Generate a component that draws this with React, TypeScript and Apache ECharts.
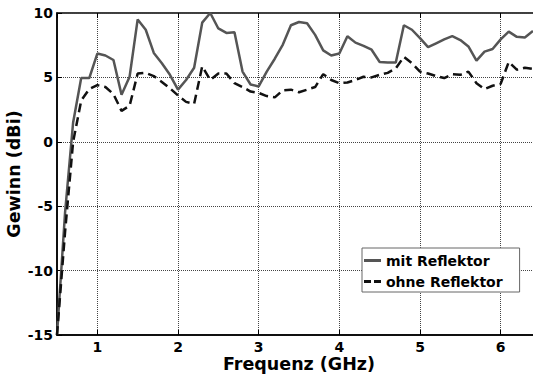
import React, { useEffect, useRef } from "react";
import * as echarts from "echarts";

const freq = [0.5, 0.6, 0.7, 0.8, 0.9, 1.0, 1.1, 1.2, 1.3, 1.4, 1.5, 1.6, 1.7, 1.8, 1.9, 2.0, 2.1, 2.2, 2.3, 2.4, 2.5, 2.6, 2.7, 2.8, 2.9, 3.0, 3.1, 3.2, 3.3, 3.4, 3.5, 3.6, 3.7, 3.8, 3.9, 4.0, 4.1, 4.2, 4.3, 4.4, 4.5, 4.6, 4.7, 4.8, 4.9, 5.0, 5.1, 5.2, 5.3, 5.4, 5.5, 5.6, 5.7, 5.8, 5.9, 6.0, 6.1, 6.2, 6.3, 6.4];

const mitReflektor = [-15, -5.5, 1.5, 4.95, 4.95, 6.85, 6.7, 6.35, 3.65, 5.05, 9.5, 8.7, 6.9, 6.1, 5.2, 4.05, 4.8, 5.75, 9.25, 10.0, 8.8, 8.45, 8.5, 5.45, 4.45, 4.3, 5.45, 6.45, 7.55, 9.05, 9.3, 9.2, 8.3, 7.1, 6.7, 6.85, 8.2, 7.7, 7.45, 7.15, 6.2, 6.15, 6.15, 9.05, 8.7, 8.05, 7.35, 7.65, 7.95, 8.2, 7.9, 7.4, 6.3, 7.0, 7.2, 7.95, 8.55, 8.15, 8.1, 8.6];

const ohneReflektor = [-15, -7, 0.0, 3.2, 4.1, 4.4, 4.25, 3.7, 2.4, 2.8, 5.3, 5.35, 5.1, 4.65, 4.15, 3.6, 3.1, 2.95, 5.85, 4.8, 5.3, 5.3, 4.55, 4.25, 3.9, 3.8, 3.55, 3.45, 4.0, 4.05, 3.85, 4.05, 4.25, 5.25, 4.8, 4.55, 4.6, 4.8, 5.05, 5.0, 5.2, 5.35, 5.7, 6.6, 6.1, 5.45, 5.3, 5.1, 4.95, 5.25, 5.2, 5.45, 4.55, 4.1, 4.35, 4.5, 6.2, 5.6, 5.75, 5.65];

const seriesNames = ["mit Reflektor", "ohne Reflektor"];
const xTitle = "Frequenz (GHz)";
const yTitle = "Gewinn (dBi)";

const FONT = "'DejaVu Sans', 'Liberation Sans', Arial, sans-serif";
const ICON_SOLID = "path://M0,0 H17 V3 H0 Z";
const ICON_DASHED = "path://M0,0 H7 V3 H0 Z M10,0 H17 V3 H10 Z";

export default function App() {
  const ref = useRef<HTMLDivElement>(null);
  useEffect(() => {
    if (!ref.current) return;
    const chart = echarts.init(ref.current, undefined, { renderer: "svg" });
    const pairs = (vals: number[]) => freq.map((f, i) => [f, vals[i]]);
    chart.setOption({
      animation: false,
      backgroundColor: "#ffffff",
      grid: {
        left: 57,
        top: 13,
        right: -8,
        bottom: 39,
        outerBoundsMode: "none",
        containLabel: false,
        show: true,
        borderColor: "#000",
        borderWidth: 1.5,
        backgroundColor: "transparent",
      },
      legend: {
        data: [
          { name: seriesNames[0], icon: ICON_SOLID },
          { name: seriesNames[1], icon: ICON_DASHED },
        ],
        orient: "vertical",
        left: 362,
        top: 248,
        itemWidth: 17,
        itemHeight: 3,
        itemGap: 4,
        padding: [4, 17, 2, 2],
        backgroundColor: "#fff",
        borderColor: "#666",
        borderWidth: 1,
        textStyle: { fontSize: 14, fontWeight: "bold", color: "#000", fontFamily: FONT, lineHeight: 17 },
      },
      xAxis: [
        {
          type: "value",
          min: 0.5,
          max: 6.5,
          splitNumber: 6,
          name: xTitle,
          nameLocation: "middle",
          nameGap: 20,
          nameMoveOverlap: false,
          nameTextStyle: { fontSize: 17.5, fontWeight: "bold", color: "#000", fontFamily: FONT, lineHeight: 18 },
          axisLine: { show: true, onZero: false, lineStyle: { color: "#000", width: 1.5 } },
          axisTick: { inside: true, length: 5, lineStyle: { color: "#000", width: 1 } },
          axisLabel: {
            showMinLabel: false,
            showMaxLabel: false,
            fontSize: 14,
            lineHeight: 14,
            fontWeight: "bold",
            color: "#000",
            margin: 5,
            fontFamily: FONT,
          },
          splitLine: { show: true, lineStyle: { type: "dotted", color: "#444", width: 1 } },
        },
        {
          type: "value",
          position: "top",
          min: 0.5,
          max: 6.5,
          splitNumber: 6,
          axisLine: { show: false, onZero: false },
          axisTick: { inside: true, length: 5, lineStyle: { color: "#000", width: 1 } },
          axisLabel: { show: false },
          splitLine: { show: false },
        },
      ],
      yAxis: {
        type: "value",
        min: -15,
        max: 10,
        interval: 5,
        name: yTitle,
        nameLocation: "middle",
        nameGap: 34,
        nameMoveOverlap: false,
        nameTextStyle: { fontSize: 17.5, fontWeight: "bold", color: "#000", fontFamily: FONT },
        axisLine: { show: true, onZero: false, lineStyle: { color: "#000", width: 1.5 } },
        axisTick: { inside: true, length: 5, lineStyle: { color: "#000", width: 1 } },
        axisLabel: { fontSize: 14, fontWeight: "bold", color: "#000", margin: 4, fontFamily: FONT },
        splitLine: { show: true, lineStyle: { type: "dotted", color: "#444", width: 1 } },
      },
      series: [
        {
          name: seriesNames[0],
          type: "line",
          data: pairs(mitReflektor),
          symbol: "none",
          lineStyle: { color: "#555", width: 2.5 },
          itemStyle: { color: "#555" },
          z: 3,
        },
        {
          name: seriesNames[1],
          type: "line",
          data: pairs(ohneReflektor),
          symbol: "none",
          lineStyle: { color: "#111", width: 2.5, type: [9, 5] },
          itemStyle: { color: "#111" },
          z: 4,
        },
      ],
    });
    return () => chart.dispose();
  }, []);
  return (
    <div
      ref={ref}
      style={{ position: "fixed", left: 0, top: 0, width: 533, height: 374, background: "#fff" }}
    />
  );
}
